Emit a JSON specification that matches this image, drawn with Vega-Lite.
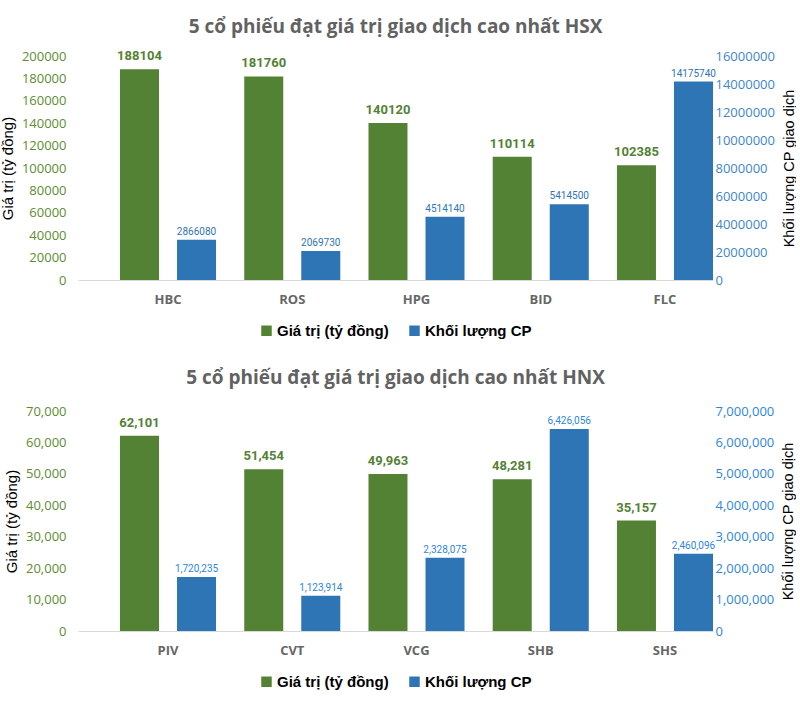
{
  "$schema": "https://vega.github.io/schema/vega-lite/v6.json",
  "background": "white",
  "padding": {"left": 0, "top": 18, "right": 0, "bottom": 0},
  "datasets": {
    "hsx": [
      {"ma": "HBC", "loai": "Giá trị (tỷ đồng)", "so_lieu": 188104},
      {"ma": "HBC", "loai": "Khối lượng CP", "so_lieu": 2866080},
      {"ma": "ROS", "loai": "Giá trị (tỷ đồng)", "so_lieu": 181760},
      {"ma": "ROS", "loai": "Khối lượng CP", "so_lieu": 2069730},
      {"ma": "HPG", "loai": "Giá trị (tỷ đồng)", "so_lieu": 140120},
      {"ma": "HPG", "loai": "Khối lượng CP", "so_lieu": 4514140},
      {"ma": "BID", "loai": "Giá trị (tỷ đồng)", "so_lieu": 110114},
      {"ma": "BID", "loai": "Khối lượng CP", "so_lieu": 5414500},
      {"ma": "FLC", "loai": "Giá trị (tỷ đồng)", "so_lieu": 102385},
      {"ma": "FLC", "loai": "Khối lượng CP", "so_lieu": 14175740}
    ],
    "hnx": [
      {"ma": "PIV", "loai": "Giá trị (tỷ đồng)", "so_lieu": 62101},
      {"ma": "PIV", "loai": "Khối lượng CP", "so_lieu": 1720235},
      {"ma": "CVT", "loai": "Giá trị (tỷ đồng)", "so_lieu": 51454},
      {"ma": "CVT", "loai": "Khối lượng CP", "so_lieu": 1123914},
      {"ma": "VCG", "loai": "Giá trị (tỷ đồng)", "so_lieu": 49963},
      {"ma": "VCG", "loai": "Khối lượng CP", "so_lieu": 2328075},
      {"ma": "SHB", "loai": "Giá trị (tỷ đồng)", "so_lieu": 48281},
      {"ma": "SHB", "loai": "Khối lượng CP", "so_lieu": 6426056},
      {"ma": "SHS", "loai": "Giá trị (tỷ đồng)", "so_lieu": 35157},
      {"ma": "SHS", "loai": "Khối lượng CP", "so_lieu": 2460096}
    ]
  },
  "spacing": 30,
  "resolve": {"scale": {"color": "independent"}, "legend": {"color": "independent"}},
  "vconcat": [
    {
      "data": {"name": "hsx"},
      "width": 635,
      "height": 224,
      "title": {"text": "5 cổ phiếu đạt giá trị giao dịch cao nhất HSX", "font": "Open Sans", "fontSize": 19, "fontWeight": "bold", "color": "#626262", "anchor": "middle", "offset": 13},
      "encoding": {
        "x": {"field": "ma", "type": "nominal", "sort": null, "title": null,
              "scale": {"paddingInner": 0.227, "paddingOuter": 0.169, "align": 1},
              "axis": {"labelAngle": 0, "labelFont": "Open Sans", "labelFontWeight": "bold", "labelFontSize": 13, "labelColor": "#666666", "labelPadding": 13, "domain": true, "domainColor": "#D9D9D9", "ticks": false}},
        "xOffset": {"field": "loai", "type": "nominal", "sort": null,
              "scale": {"domain": ["Giá trị (tỷ đồng)", "Khối lượng CP"], "paddingInner": 0.316, "paddingOuter": 0}},
        "color": {"field": "loai", "type": "nominal",
              "scale": {"domain": ["Giá trị (tỷ đồng)", "Khối lượng CP"], "range": ["#548235", "#2E75B6"]},
              "legend": {"title": null, "orient": "bottom", "direction": "horizontal", "symbolType": "square", "symbolSize": 110, "symbolStrokeWidth": 0, "labelFont": "Liberation Sans", "labelFontWeight": "bold", "labelFontSize": 15, "labelColor": "#000000", "labelOffset": 3, "columnPadding": 18, "offset": 17}}
      },
      "layer": [
        {
          "transform": [{"filter": "datum.loai === 'Giá trị (tỷ đồng)'"}],
          "encoding": {
            "y": {"field": "so_lieu", "type": "quantitative", "scale": {"domain": [0, 200000]},
                  "axis": {"title": "Giá trị (tỷ đồng)", "orient": "left", "format": "d", "tickCount": 10, "grid": false, "domain": false, "ticks": false, "labelPadding": 12, "labelFont": "Open Sans", "labelFontSize": 13, "labelColor": "#5E8C31", "titleFont": "Liberation Sans", "titleFontSize": 15, "titleFontWeight": "normal", "titleColor": "#000000", "titlePadding": 6}}
          },
          "layer": [
            {"mark": {"type": "bar"}},
            {"mark": {"type": "text", "baseline": "bottom", "dy": -6, "font": "Roboto", "fontWeight": "bold", "fontSize": 13},
             "encoding": {"text": {"field": "so_lieu", "type": "quantitative", "format": "d"}, "color": {"value": "#548235"}}}
          ]
        },
        {
          "transform": [{"filter": "datum.loai === 'Khối lượng CP'"}],
          "encoding": {
            "y": {"field": "so_lieu", "type": "quantitative", "scale": {"domain": [0, 16000000]},
                  "axis": {"title": "Khối lượng CP giao dịch", "orient": "right", "format": "d", "tickCount": 8, "grid": false, "domain": false, "ticks": false, "labelPadding": 2, "labelFont": "Open Sans", "labelFontSize": 13, "labelColor": "#3C86CC", "titleFont": "Liberation Sans", "titleFontSize": 14.5, "titleFontWeight": "normal", "titleColor": "#000000", "titlePadding": 8, "titleAngle": 270, "titleBaseline": "top"}}
          },
          "layer": [
            {"mark": {"type": "bar"}},
            {"mark": {"type": "text", "baseline": "bottom", "dy": -3, "font": "Roboto", "fontSize": 10},
             "encoding": {"text": {"field": "so_lieu", "type": "quantitative", "format": "d"}, "color": {"value": "#2E75B6"}}}
          ]
        }
      ],
      "resolve": {"scale": {"y": "independent"}}
    },
    {
      "data": {"name": "hnx"},
      "width": 635,
      "height": 220,
      "title": {"text": "5 cổ phiếu đạt giá trị giao dịch cao nhất HNX", "font": "Open Sans", "fontSize": 19, "fontWeight": "bold", "color": "#626262", "anchor": "middle", "offset": 17},
      "encoding": {
        "x": {"field": "ma", "type": "nominal", "sort": null, "title": null,
              "scale": {"paddingInner": 0.227, "paddingOuter": 0.169, "align": 1},
              "axis": {"labelAngle": 0, "labelFont": "Open Sans", "labelFontWeight": "bold", "labelFontSize": 13, "labelColor": "#666666", "labelPadding": 13, "domain": true, "domainColor": "#D9D9D9", "ticks": false}},
        "xOffset": {"field": "loai", "type": "nominal", "sort": null,
              "scale": {"domain": ["Giá trị (tỷ đồng)", "Khối lượng CP"], "paddingInner": 0.316, "paddingOuter": 0}},
        "color": {"field": "loai", "type": "nominal",
              "scale": {"domain": ["Giá trị (tỷ đồng)", "Khối lượng CP"], "range": ["#548235", "#2E75B6"]},
              "legend": {"title": null, "orient": "bottom", "direction": "horizontal", "symbolType": "square", "symbolSize": 110, "symbolStrokeWidth": 0, "labelFont": "Liberation Sans", "labelFontWeight": "bold", "labelFontSize": 15, "labelColor": "#000000", "labelOffset": 3, "columnPadding": 18, "offset": 17}}
      },
      "layer": [
        {
          "transform": [{"filter": "datum.loai === 'Giá trị (tỷ đồng)'"}],
          "encoding": {
            "y": {"field": "so_lieu", "type": "quantitative", "scale": {"domain": [0, 70000]},
                  "axis": {"title": "Giá trị (tỷ đồng)", "orient": "left", "format": ",d", "tickCount": 7, "grid": false, "domain": false, "ticks": false, "labelPadding": 12, "labelFont": "Open Sans", "labelFontSize": 13, "labelColor": "#5E8C31", "titleFont": "Liberation Sans", "titleFontSize": 15, "titleFontWeight": "normal", "titleColor": "#000000", "titlePadding": 6}}
          },
          "layer": [
            {"mark": {"type": "bar"}},
            {"mark": {"type": "text", "baseline": "bottom", "dy": -6, "font": "Roboto", "fontWeight": "bold", "fontSize": 13},
             "encoding": {"text": {"field": "so_lieu", "type": "quantitative", "format": ",d"}, "color": {"value": "#548235"}}}
          ]
        },
        {
          "transform": [{"filter": "datum.loai === 'Khối lượng CP'"}],
          "encoding": {
            "y": {"field": "so_lieu", "type": "quantitative", "scale": {"domain": [0, 7000000]},
                  "axis": {"title": "Khối lượng CP giao dịch", "orient": "right", "format": ",d", "tickCount": 7, "grid": false, "domain": false, "ticks": false, "labelPadding": 2, "labelFont": "Open Sans", "labelFontSize": 13, "labelColor": "#2E86DE", "titleFont": "Liberation Sans", "titleFontSize": 14.5, "titleFontWeight": "normal", "titleColor": "#000000", "titlePadding": 8, "titleAngle": 270, "titleBaseline": "top"}}
          },
          "layer": [
            {"mark": {"type": "bar"}},
            {"mark": {"type": "text", "baseline": "bottom", "dy": -3, "font": "Roboto", "fontSize": 10},
             "encoding": {"text": {"field": "so_lieu", "type": "quantitative", "format": ",d"}, "color": {"value": "#2E86DE"}}}
          ]
        }
      ],
      "resolve": {"scale": {"y": "independent"}}
    }
  ],
  "config": {"view": {"stroke": null}, "legend": {"layout": {"bottom": {"anchor": "middle"}}}}
}
